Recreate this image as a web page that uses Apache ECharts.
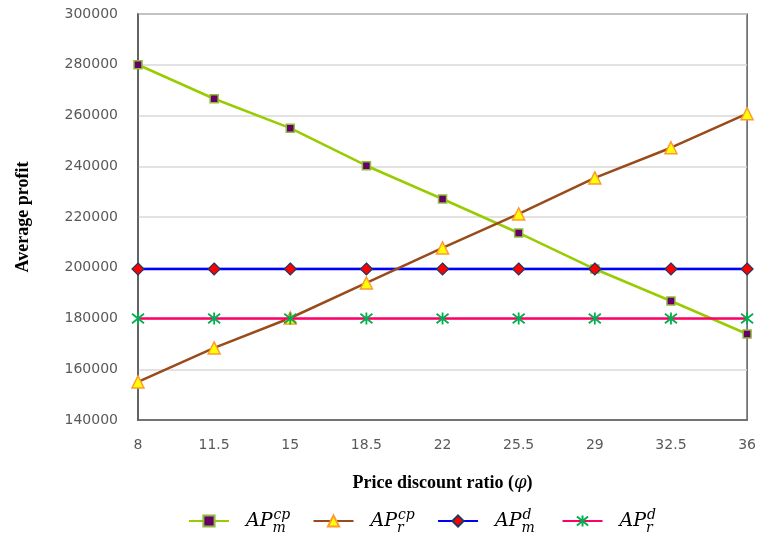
<!DOCTYPE html>
<html>
<head>
<meta charset="utf-8">
<script src="https://cdn.jsdelivr.net/npm/echarts@6/dist/echarts.min.js"></script>
<style>html,body{margin:0;padding:0;background:#fff;}#c{width:759px;height:549px;}</style>
</head>
<body>
<div id="c"></div>
<script>
var categories = ['8', '11.5', '15', '18.5', '22', '25.5', '29', '32.5', '36'];
var apmCp = [280000, 266600, 255000, 240200, 227100, 213700, 199500, 186900, 173900];
var aprCp = [155000, 168400, 180200, 194000, 207800, 221200, 235400, 247300, 260700];
var apmD = [199500, 199500, 199500, 199500, 199500, 199500, 199500, 199500, 199500];
var aprD = [180000, 180000, 180000, 180000, 180000, 180000, 180000, 180000, 180000];
var seriesNames = ['APm_cp', 'APr_cp', 'APm_d', 'APr_d'];
var legendLabels = {
  'APm_cp': ['m', 'cp'],
  'APr_cp': ['r', 'cp'],
  'APm_d': ['m', 'd'],
  'APr_d': ['r', 'd']
};

var chart = echarts.init(document.getElementById('c'));
var mathFont = '"DejaVu Serif", "Liberation Serif", serif';
var option = {
  animation: false,
  backgroundColor: '#fff',
  grid: {
    left: 138, right: 10, top: 14, bottom: 129,
    show: true, borderColor: '#595959', borderWidth: 1.5
  },
  legend: {
    bottom: 6,
    left: 183,
    itemWidth: 40,
    itemHeight: 14,
    itemGap: 15,
    data: seriesNames,
    textStyle: {
      rich: {
        ap: { fontFamily: mathFont, fontStyle: 'italic', fontSize: 19, color: '#000', padding: [0, 0, 0, 12], lineHeight: 34, verticalAlign: 'middle' },
        sub: { fontFamily: mathFont, fontStyle: 'italic', fontSize: 14, color: '#000', width: 1, lineHeight: 34, verticalAlign: 'bottom', padding: [0, 0, 3, 0] },
        sup: { fontFamily: mathFont, fontStyle: 'italic', fontSize: 14, color: '#000', width: 24, lineHeight: 34, verticalAlign: 'top', padding: [4, 0, 0, 0] }
      }
    },
    formatter: function (name) {
      var l = legendLabels[name];
      return '{ap|AP}{sub|' + l[0] + '}{sup|' + l[1] + '}';
    }
  },
  xAxis: {
    type: 'category',
    data: categories,
    boundaryGap: false,
    axisLine: { lineStyle: { color: '#595959', width: 1.5 } },
    axisTick: { show: false },
    axisLabel: { color: '#595959', fontSize: 14, fontFamily: '"DejaVu Sans", sans-serif', margin: 18 },
    splitLine: { show: false },
    name: 'Price discount ratio ({i|φ})',
    nameLocation: 'middle',
    nameGap: 54,
    nameTextStyle: {
      fontFamily: '"Liberation Serif", serif', fontWeight: 'bold', fontSize: 18, color: '#000',
      rich: { i: { fontFamily: mathFont, fontStyle: 'italic', fontWeight: 'normal', fontSize: 18, color: '#000' } }
    }
  },
  yAxis: {
    type: 'value',
    min: 140000, max: 300000, interval: 20000,
    axisLine: { show: true, lineStyle: { color: '#595959', width: 1.5 } },
    axisTick: { show: false },
    axisLabel: {
      color: '#595959', fontSize: 14, fontFamily: '"DejaVu Sans", sans-serif', margin: 20,
      formatter: function (v) { return String(v); }
    },
    splitLine: { lineStyle: { color: '#d9d9d9', width: 1.5 } },
    name: 'Average profit',
    nameLocation: 'middle',
    nameGap: 106,
    nameTextStyle: { fontFamily: '"Liberation Serif", serif', fontWeight: 'bold', fontSize: 18, color: '#000' }
  },
  series: [
    {
      name: 'APm_cp', type: 'line', data: apmCp,
      symbol: 'rect', symbolSize: 8,
      lineStyle: { color: '#99cc00', width: 2.5 },
      itemStyle: { color: '#660066', borderColor: '#8fbc3f', borderWidth: 1.5 },
      z: 2
    },
    {
      name: 'APr_cp', type: 'line', data: aprCp,
      symbol: 'triangle', symbolSize: 12,
      lineStyle: { color: '#994c1a', width: 2.5 },
      itemStyle: { color: '#ffff00', borderColor: '#ff9933', borderWidth: 1.5 },
      z: 4
    },
    {
      name: 'APm_d', type: 'line', data: apmD,
      symbol: 'diamond', symbolSize: 12,
      lineStyle: { color: '#0000ff', width: 2.5 },
      itemStyle: { color: '#ff0000', borderColor: '#1f3864', borderWidth: 1.2 },
      z: 3
    },
    {
      name: 'APr_d', type: 'line', data: aprD,
      symbol: 'path://M5,0L5,10M0,1L10,9M10,1L0,9', symbolSize: 12,
      lineStyle: { color: '#ff0066', width: 2.5 },
      itemStyle: { color: 'rgba(0,0,0,0)', borderColor: '#00b050', borderWidth: 1.8 },
      z: 5
    }
  ]
};
chart.setOption(option);
</script>
</body>
</html>
